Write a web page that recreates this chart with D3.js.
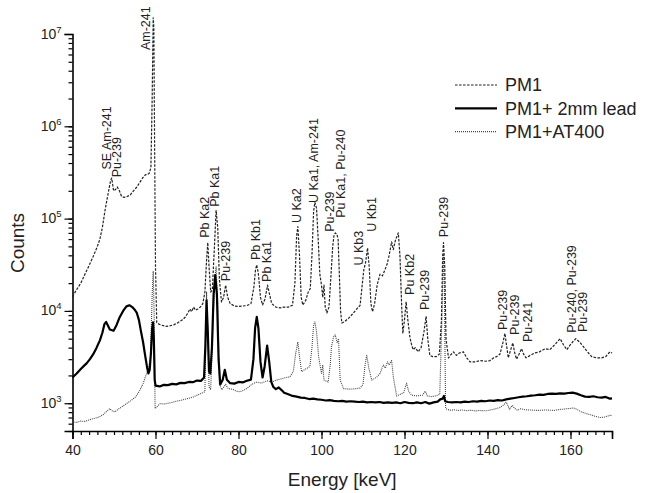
<!DOCTYPE html>
<html>
<head>
<meta charset="utf-8">
<script src="https://cdn.jsdelivr.net/npm/d3@7"></script>
<style>
  body { margin: 0; background: #fff; }
  svg { display: block; font-family: "Liberation Sans", Arial, sans-serif; }
</style>
</head>
<body>
<svg width="648" height="493"></svg>
<script>
// spectra: [energy keV, counts]
var pm1 = [
  [40,1.43e4],[41,1.7e4],[42,2.0e4],[43,2.5e4],[44,3.1e4],[45,3.9e4],[46,5.0e4],[46.6,6.0e4],
  [47.2,8.0e4],[47.8,1.2e5],[48.3,1.6e5],[48.8,2.1e5],[49.2,2.6e5],[49.45,2.75e5],[49.7,2.3e5],
  [49.9,2.0e5],[50.3,2.05e5],[50.8,2.2e5],[51.3,2.0e5],[51.8,1.75e5],[52.4,1.7e5],[53.0,1.72e5],
  [53.9,1.8e5],[54.7,2.0e5],[55.5,2.2e5],[56.3,2.5e5],[57.0,2.8e5],[57.6,3.0e5],[58.0,3.0e5],
  [58.5,3.1e5],[58.9,3.6e5],[59.2,2.0e6],[59.45,1.5e7],[59.6,1.2e7],[59.8,5e5],[60.0,3e4],
  [60.3,7.5e3],[60.8,7.2e3],[61.5,7.0e3],[62.5,6.8e3],[63.5,6.9e3],[64.5,7.1e3],[65.5,7.5e3],
  [66.5,8.0e3],[67.2,8.6e3],[67.8,9.5e3],[68.3,1.05e4],[68.7,9.8e3],[69.2,1.1e4],[69.6,1.02e4],
  [70.2,1.05e4],[70.8,1.1e4],[71.4,1.2e4],[71.9,1.6e4],[72.3,3.5e4],[72.6,5.5e4],[72.9,3.0e4],
  [73.3,1.6e4],[73.7,1.7e4],[74.2,5e4],[74.6,1.22e5],[75.0,8e4],[75.4,2.2e4],[75.9,1.25e4],
  [76.4,1.4e4],[76.9,1.9e4],[77.4,1.4e4],[78.0,1.2e4],[79,1.13e4],[80,1.12e4],[81,1.13e4],
  [82,1.14e4],[83,1.2e4],[83.7,1.8e4],[84.1,2.8e4],[84.4,3.15e4],[84.8,2.5e4],[85.3,1.4e4],
  [85.8,1.16e4],[86.4,1.35e4],[87.0,1.9e4],[87.5,1.5e4],[88.0,1.2e4],[89,1.1e4],[90,1.08e4],
  [91,1.1e4],[92,1.1e4],[93,1.15e4],[93.6,2e4],[94.0,6.5e4],[94.3,8.2e4],[94.7,4e4],[95.1,1.4e4],
  [95.5,1.16e4],[96.2,1.3e4],[96.8,1.6e4],[97.3,1.75e4],[97.7,4e4],[98.1,1.2e5],[98.4,1.5e5],
  [98.8,1.3e5],[99.2,6e4],[99.6,2.5e4],[100.0,1.9e4],[100.3,1.4e4],[100.6,1.9e4],[100.9,1.1e4],
  [101.3,9.5e3],[101.8,1.1e4],[102.3,2.5e4],[102.7,5e4],[103.0,6.5e4],[103.3,7e4],[103.7,6.8e4],
  [104.0,6e4],[104.3,2.5e4],[104.6,1e4],[104.9,7.4e3],[105.5,7.6e3],[106.5,8.3e3],[107.5,9.3e3],
  [108.5,1.05e4],[109.3,1.15e4],[109.8,1.9e4],[110.2,2.8e4],[110.6,3.3e4],[111.1,4.8e4],
  [111.5,3.0e4],[111.9,1.2e4],[112.3,9.8e3],[112.8,1.2e4],[113.4,1.9e4],[114.1,2.5e4],
  [114.7,2.4e4],[115.3,2.8e4],[115.8,3.2e4],[116.3,4.0e4],[116.9,5.6e4],[117.3,4.6e4],
  [117.8,5.8e4],[118.5,7.0e4],[118.9,4e4],[119.3,1.2e4],[119.6,5.7e3],[120.0,8e3],[120.4,1.26e4],
  [120.8,8e3],[121.3,5.2e3],[121.7,4.3e3],[122.1,3.8e3],[122.6,4.0e3],[123.3,3.6e3],[124.0,4e3],
  [124.7,6e3],[125.2,8.7e3],[125.6,5e3],[126.1,3.3e3],[126.8,3.2e3],[127.7,3.2e3],[128.4,3.4e3],
  [128.9,8e3],[129.2,4e4],[129.4,5.5e4],[129.7,3e4],[130.0,5e3],[130.6,3.1e3],[131.3,3.4e3],
  [131.8,3.6e3],[132.5,3.3e3],[133.2,3.5e3],[134.2,3.6e3],[135.0,3.1e3],[135.8,2.8e3],[137,2.8e3],
  [138.2,2.9e3],[139.5,2.85e3],[140.6,2.9e3],[141.5,3.1e3],[142.2,3.2e3],[143.0,3.4e3],
  [143.7,4.5e3],[144.2,5.7e3],[144.6,4.2e3],[145.0,3.1e3],[145.6,3.8e3],[146.1,4.5e3],
  [146.5,3.6e3],[147.0,3.0e3],[147.6,3.4e3],[148.2,3.9e3],[148.7,3.4e3],[149.3,3.1e3],
  [150.3,3.3e3],[151.4,3.5e3],[152.5,3.6e3],[153.9,3.9e3],[155.0,3.8e3],[156.2,4.3e3],
  [157.5,5.0e3],[158.3,4.3e3],[159.1,3.8e3],[159.8,4.2e3],[160.5,4.6e3],[161.3,5.0e3],
  [162.2,4.6e3],[163.1,4.1e3],[164.1,3.6e3],[165.1,3.2e3],[166.3,3.1e3],[167.5,3.1e3],
  [168.5,3.2e3],[169.5,3.6e3],[170,3.5e3]
];

var lead = [
  [40,1.9e3],[41,2.1e3],[42,2.35e3],[43,2.6e3],[43.4,2.7e3],[44.2,3.0e3],[45,3.4e3],[45.8,4.0e3],
  [46.6,4.8e3],[47.2,5.8e3],[47.7,7.2e3],[48.1,7.6e3],[48.5,7.0e3],[49.0,6.3e3],[49.9,6.1e3],
  [50.6,7.0e3],[51.4,8.6e3],[52.2,1.0e4],[53.0,1.12e4],[53.7,1.15e4],[54.4,1.1e4],[55.0,1.03e4],
  [55.5,9.5e3],[56.0,8.0e3],[56.5,6.0e3],[57.0,4.6e3],[57.5,3.3e3],[58.0,2.4e3],[58.3,2.1e3],
  [58.6,2.3e3],[58.9,3.5e3],[59.2,6.5e3],[59.4,7.5e3],[59.6,5.0e3],[59.8,1.8e3],[60.0,1.55e3],
  [61,1.52e3],[62,1.58e3],[63,1.57e3],[64,1.62e3],[65,1.6e3],[66,1.66e3],[67,1.65e3],[68,1.7e3],
  [69,1.69e3],[70,1.76e3],[71,1.75e3],[71.7,1.9e3],[72.0,4e3],[72.3,1.3e4],[72.6,6e3],[72.9,2.2e3],
  [73.2,2.1e3],[73.6,4e3],[74.0,1.5e4],[74.4,2.45e4],[74.8,1.5e4],[75.2,3e3],[75.6,1.6e3],
  [76.2,1.8e3],[76.7,2.3e3],[77.2,1.8e3],[78.0,1.65e3],[79,1.63e3],[80,1.7e3],[81,1.68e3],
  [82,1.75e3],[83,1.8e3],[83.6,3.0e3],[84.0,6.5e3],[84.4,8.6e3],[84.8,6.5e3],[85.3,2.8e3],
  [85.8,1.9e3],[86.3,2.5e3],[86.9,4.2e3],[87.4,2.8e3],[87.9,1.7e3],[88.4,1.5e3],[89,1.42e3],
  [89.7,1.48e3],[90.5,1.37e3],[91,1.3e3],[92,1.25e3],[93,1.2e3],[94,1.18e3],[95,1.15e3],
  [96,1.14e3],[97,1.11e3],[98,1.12e3],[99,1.1e3],[100,1.09e3],[101,1.07e3],[102,1.08e3],
  [103,1.06e3],[104,1.05e3],[105,1.06e3],[106,1.04e3],[107,1.05e3],[108,1.04e3],[109,1.03e3],
  [110,1.04e3],[111,1.02e3],[112,1.03e3],[113,1.02e3],[114,1.03e3],[115,1.01e3],[116,1.02e3],
  [117,1.01e3],[118,1.02e3],[119,1.0e3],[120,1.03e3],[121,1.01e3],[122,1.0e3],[123,1.02e3],
  [124,1.0e3],[125,1.03e3],[126,0.99e3],[127,1.02e3],[128,1.04e3],[128.6,1.1e3],[129.2,1.12e3],
  [129.5,1.2e3],[129.8,1.05e3],[130.5,1.03e3],[131.5,1.02e3],[132.5,1.03e3],[133.5,1.02e3],
  [134.5,1.04e3],[135.5,1.03e3],[136.5,1.05e3],[137.5,1.04e3],[138.5,1.06e3],[139.5,1.05e3],
  [140.5,1.07e3],[141.5,1.06e3],[142.5,1.08e3],[143.5,1.07e3],[144.5,1.1e3],[145.5,1.12e3],
  [146.5,1.14e3],[147.5,1.16e3],[148.5,1.18e3],[149.5,1.19e3],[150.5,1.21e3],[151.5,1.22e3],
  [152.5,1.24e3],[153.5,1.23e3],[154.5,1.26e3],[155.5,1.27e3],[156.5,1.26e3],[157.5,1.28e3],
  [158.5,1.27e3],[159.5,1.29e3],[160.5,1.3e3],[161.5,1.27e3],[162.5,1.22e3],[163.5,1.18e3],
  [164.5,1.17e3],[165.5,1.19e3],[166.5,1.16e3],[167.5,1.15e3],[168.5,1.17e3],[169.5,1.12e3],
  [170,1.13e3]
];

var at400 = [
  [40,630],[41,620],[42,640],[43,635],[44,660],[45,680],[46,700],[46.6,715],[47.5,760],[48.3,820],
  [49.0,875],[49.5,830],[50.2,805],[51,860],[52,920],[53,990],[54,1.06e3],[55,1.15e3],[55.5,1.22e3],
  [56.2,1.38e3],[57.0,1.63e3],[57.6,1.95e3],[58.3,2.4e3],[58.8,3.2e3],[59.2,1.5e4],[59.45,2.7e4],
  [59.7,8e3],[59.9,875],[60.5,930],[61.1,990],[62,980],[63,1.0e3],[64,1.02e3],[65,1.05e3],
  [66,1.07e3],[67,1.1e3],[68,1.13e3],[69.1,1.17e3],[70,1.22e3],[71,1.28e3],[71.9,1.33e3],
  [72.3,1.6e4],[72.6,6e3],[72.9,1.5e3],[73.3,1.4e3],[74.2,2e4],[74.6,3e4],[75.0,1.2e4],
  [75.4,1.6e3],[76,1.4e3],[76.9,1.6e3],[77.5,1.44e3],[78.5,1.42e3],[79.5,1.35e3],[80.4,1.33e3],
  [81.5,1.4e3],[82.5,1.5e3],[83.2,1.6e3],[84.4,1.7e3],[85.5,1.65e3],[86.9,1.75e3],[88,1.7e3],
  [89.2,1.78e3],[90.5,1.85e3],[91.5,1.9e3],[92.4,1.93e3],[93.2,2.2e3],[93.8,3.5e3],[94.3,4.6e3],
  [94.7,3.2e3],[95.2,2.2e3],[96.2,2.35e3],[97.2,2.5e3],[97.7,4e3],[98.1,7e3],[98.4,7.6e3],
  [98.8,6e3],[99.3,3.2e3],[100.0,2.1e3],[100.3,2.6e3],[100.6,1.78e3],[101.6,1.7e3],[102.1,2.6e3],
  [102.4,4.1e3],[102.9,5.2e3],[103.3,5.5e3],[103.8,4.5e3],[104.1,5.0e3],[104.5,1.78e3],
  [105.3,1.44e3],[106.5,1.42e3],[108,1.43e3],[109.3,1.46e3],[110,1.6e3],[110.5,2.6e3],
  [110.9,3.3e3],[111.4,2.4e3],[112.1,1.78e3],[113.2,1.9e3],[114.1,2.1e3],[114.9,2.6e3],
  [115.4,2.4e3],[115.9,2.8e3],[116.3,2.6e3],[116.9,2.9e3],[117.3,1.93e3],[118.1,1.2e3],
  [119.0,1.25e3],[119.8,1.3e3],[120.5,1.65e3],[121.0,1.35e3],[121.7,1.22e3],[123,1.2e3],
  [124.3,1.22e3],[125.0,1.35e3],[125.5,1.2e3],[126.5,1.18e3],[127.5,1.2e3],[128.5,1.25e3],
  [129.0,8e3],[129.35,4e4],[129.6,2e4],[129.9,900],[130.2,860],[131,840],[132,850],[133,835],
  [134,845],[135,830],[136,840],[137,825],[138,835],[139,830],[139.8,830],[141,850],[142,870],
  [143,900],[143.8,950],[144.5,1.03e3],[145.3,860],[146,950],[146.5,880],[147.2,840],[148,870],
  [149,850],[150,845],[151,840],[152,835],[153,840],[154,845],[155,840],[156,835],[157,850],
  [158,860],[159,870],[160,880],[160.7,890],[161.5,860],[162.5,810],[163.9,770],[165,745],
  [166,720],[167.1,700],[168,705],[169,725],[169.5,740],[170,735]
];

var seriesNames = ["PM1", "PM1+ 2mm lead", "PM1+AT400"];

// peak annotations: text, energy, counts at the foot of the text
var peakLabels = ["SE Am-241", "Pu-239", "Am-241", "Pb Ka2", "Pb Ka1", "Pu-239", "Pb Kb1", "Pb Ka1",
  "U Ka2", "U Ka1, Am-241", "Pu-239", "Pu Ka1, Pu-240", "U Kb3", "U Kb1", "Pu Kb2", "Pu-239",
  "Pu-239", "Pu-239", "Pu-239", "Pu-241", "Pu-240, Pu-239", "Pu-239"];
var labelEnergy = [48.3, 50.5, 57.5, 71.9, 74.3, 76.9, 84.0, 86.8, 94.0, 98.0, 102.0, 104.5,
  108.9, 112.1, 121.3, 124.9, 129.3, 143.7, 146.6, 149.6, 160.3, 162.9];
var labelCounts = [3.4e5, 2.8e5, 6.7e6, 6.2e4, 1.34e5, 2.1e4, 3.56e4, 2.06e4, 8.96e4, 1.48e5,
  7.2e4, 1.02e5, 3.1e4, 7.2e4, 1.49e4, 1.02e4, 6.3e4, 6.2e3, 5.5e3, 4.6e3, 5.8e3, 5.9e3];

var xMajor = [40, 60, 80, 100, 120, 140, 160];
var yMajor = [1e3, 1e4, 1e5, 1e6, 1e7];

var svg = d3.select("svg"),
    margin = {top: 34, right: 36, bottom: 62, left: 72.5},
    width = 648 - margin.left - margin.right,
    height = 493 - margin.top - margin.bottom;

var x = d3.scaleLinear().domain([40, 170]).range([0, width]);
var y = d3.scaleLog().domain([500, 1e7]).range([height, 0]);

var g = svg.append("g").attr("transform", "translate(" + margin.left + "," + margin.top + ")");

// minor ticks
var xMinor = d3.range(40, 171, 2);
var yMinor = [];
[100, 1e3, 1e4, 1e5, 1e6].forEach(function(d) {
  for (var k = 1; k <= 9; k++) if (d * k >= 500 && d * k <= 1e7) yMinor.push(d * k);
});

g.append("g").attr("transform", "translate(0," + height + ")")
  .call(d3.axisBottom(x).tickValues(xMinor).tickSize(4).tickFormat(""))
  .call(function(a) { a.select(".domain").remove(); });
g.append("g").attr("transform", "translate(0," + height + ")")
  .call(d3.axisBottom(x).tickValues(xMajor).tickSize(8).tickPadding(6).tickFormat(d3.format("d")))
  .call(function(a) {
    a.select(".domain").attr("stroke-width", 1.6);
    a.selectAll("text").attr("font-size", 14).attr("fill", "#222");
  });

g.append("g")
  .call(d3.axisLeft(y).tickValues(yMinor).tickSize(4).tickFormat(""))
  .call(function(a) { a.select(".domain").remove(); });
var yAx = g.append("g")
  .call(d3.axisLeft(y).tickValues(yMajor).tickSize(8).tickPadding(4).tickFormat(""));
yAx.select(".domain").attr("stroke-width", 1.6);
yAx.selectAll(".tick").append("text")
  .attr("x", -11).attr("y", 4).attr("text-anchor", "end")
  .attr("font-size", 14).attr("fill", "#222")
  .each(function(d) {
    var t = d3.select(this);
    t.append("tspan").text("10");
    t.append("tspan").attr("dy", -6).attr("font-size", 9.5).text(Math.round(Math.log10(d)));
  });

svg.selectAll(".tick line").attr("stroke", "#000").attr("stroke-width", 1.2);

var line = d3.line().x(function(d) { return x(d[0]); }).y(function(d) { return y(d[1]); });

var styles = [
  {data: pm1, stroke: "#222", width: 1.2, dash: "2.6,1.4"},
  {data: lead, stroke: "#000", width: 2.2, dash: null},
  {data: at400, stroke: "#444", width: 1.1, dash: "1,1"}
];

g.selectAll(".series")
  .data([styles[2], styles[0], styles[1]])
  .enter().append("path")
    .attr("class", "series")
    .attr("fill", "none")
    .attr("stroke", function(d) { return d.stroke; })
    .attr("stroke-width", function(d) { return d.width; })
    .attr("stroke-dasharray", function(d) { return d.dash; })
    .attr("stroke-linejoin", "round")
    .attr("d", function(d) { return line(d.data); });

// peak labels
g.selectAll(".peak")
  .data(peakLabels)
  .enter().append("text")
    .attr("class", "peak")
    .attr("transform", function(d, i) {
      return "translate(" + x(labelEnergy[i]) + "," + y(labelCounts[i]) + ") rotate(-90)";
    })
    .attr("dy", "0.36em")
    .attr("font-size", 12.5)
    .attr("fill", "#222")
    .text(function(d) { return d; });

// axis titles
svg.append("text")
  .attr("transform", "translate(24,243) rotate(-90)")
  .attr("text-anchor", "middle")
  .attr("font-size", 19)
  .attr("fill", "#222")
  .text("Counts");
svg.append("text")
  .attr("x", margin.left + width / 2).attr("y", 486)
  .attr("text-anchor", "middle")
  .attr("font-size", 19)
  .attr("fill", "#222")
  .text("Energy [keV]");

// legend
var legend = svg.append("g").attr("transform", "translate(455,85)");
var row = legend.selectAll("g").data(seriesNames).enter().append("g")
  .attr("transform", function(d, i) { return "translate(0," + i * 23.3 + ")"; });
row.append("line")
  .attr("x1", 0).attr("x2", 42)
  .attr("stroke", function(d, i) { return styles[i].stroke; })
  .attr("stroke-width", function(d, i) { return styles[i].width; })
  .attr("stroke-dasharray", function(d, i) { return styles[i].dash; });
row.append("text")
  .attr("x", 50).attr("dy", "0.35em")
  .attr("font-size", 18).attr("fill", "#222")
  .text(function(d) { return d; });
</script>
</body>
</html>
